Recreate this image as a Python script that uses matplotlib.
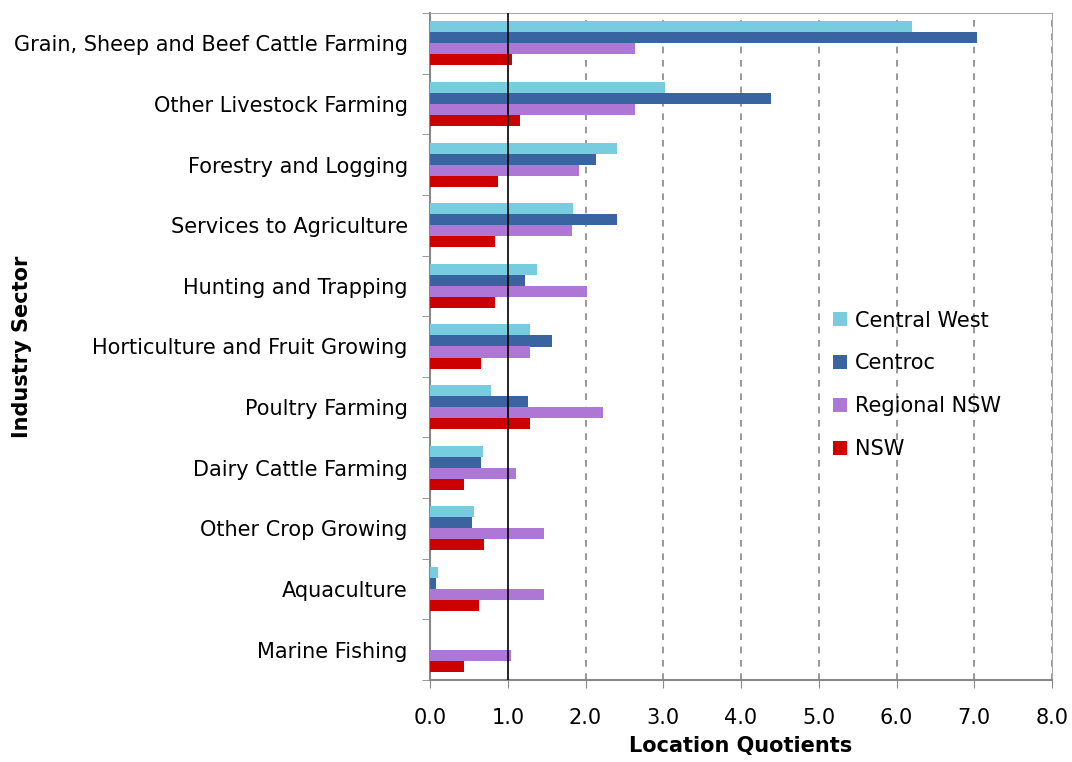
import numpy as np
import matplotlib
matplotlib.use("Agg")
import matplotlib.pyplot as plt

# location quotients by agricultural sub-sector
sectors = [
    "Grain, Sheep and Beef Cattle Farming",
    "Other Livestock Farming",
    "Forestry and Logging",
    "Services to Agriculture",
    "Hunting and Trapping",
    "Horticulture and Fruit Growing",
    "Poultry Farming",
    "Dairy Cattle Farming",
    "Other Crop Growing",
    "Aquaculture",
    "Marine Fishing",
]
central_west = [6.20, 3.02, 2.41, 1.84, 1.37, 1.29, 0.78, 0.68, 0.56, 0.10, 0.0]
centroc = [7.03, 4.39, 2.13, 2.40, 1.22, 1.57, 1.26, 0.66, 0.54, 0.08, 0.0]
regional_nsw = [2.64, 2.64, 1.92, 1.82, 2.02, 1.28, 2.22, 1.11, 1.46, 1.47, 1.04]
nsw = [1.06, 1.16, 0.88, 0.83, 0.84, 0.66, 1.28, 0.44, 0.69, 0.63, 0.44]

series = [
    ("Central West", central_west, "#78CCE0"),
    ("Centroc", centroc, "#3A64A0"),
    ("Regional NSW", regional_nsw, "#AE77D6"),
    ("NSW", nsw, "#CC0000"),
]

plt.rcParams['font.family'] = ['DejaVu Sans']

fig = plt.figure(figsize=(10.72, 7.62), dpi=100)
ax = fig.add_axes([430 / 1072, 1 - 680 / 762, 622 / 1072, 667 / 762])

y = np.arange(len(sectors))
h = 0.182
for i, (name, vals, col) in enumerate(series):
    offs = (i - 1.5) * h
    ax.barh(y + offs, vals, height=h, color=col, label=name, zorder=3)

ax.set_ylim(len(sectors) - 0.5, -0.5)
ax.set_xlim(0, 8)
ax.set_xticks(np.arange(0, 9, 1))
ax.set_xticklabels([f"{v:.1f}" for v in range(9)], fontsize=15)
ax.set_yticks(y)
ax.set_yticklabels(sectors, fontsize=15)
ax.set_yticks(np.arange(-0.5, len(sectors)), minor=True)

ax.tick_params(axis='y', which='major', length=0, pad=16)
ax.tick_params(axis='y', which='minor', length=6, color='#888888', direction='out')
ax.tick_params(axis='x', length=6, color='#888888', direction='out', pad=14)

for v in range(2, 9):
    ax.axvline(v, color='#888888', linestyle=(0, (4, 4)), linewidth=1.2, zorder=1)
ax.axvline(1, color='black', linewidth=1.2, zorder=4)

for s in ax.spines.values():
    s.set_color('#AAAAAA')
ax.spines['left'].set_color('#888888')
ax.spines['bottom'].set_color('#888888')
ax.spines['left'].set_linewidth(1.5)
ax.spines['bottom'].set_linewidth(1.5)

ax.set_xlabel("Location Quotients", fontsize=15, fontweight='bold', labelpad=6)
ax.set_ylabel("Industry Sector", fontsize=15, fontweight='bold')
ax.yaxis.set_label_coords(-398 / 622, 0.5)

ax.legend(loc='upper left', bbox_to_anchor=(0.618, 0.582), frameon=False,
          fontsize=15, handlelength=0.65, handleheight=0.65, handletextpad=0.4,
          labelspacing=1.1)

fig.savefig("out.png", dpi=100)
